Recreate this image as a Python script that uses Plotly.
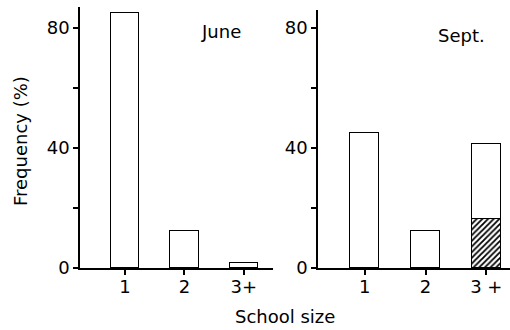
import plotly.graph_objects as go

sizes = [1, 2, 3]
size_labels_june = ["1", "2", "3+"]
size_labels_sept = ["1", "2", "3 +"]
june = [85, 12.5, 1.8]
sept_plain = [45, 12.4, 25.1]
sept_hatched = [None, None, 16.2]
y_ticks = [0, 20, 40, 60, 80]
y_labels = ["0", "", "40", "", "80"]

FONT = "DejaVu Sans"
FS = 18
fig = go.Figure()
bar_style = dict(marker=dict(color="white", line=dict(color="black", width=1.3)), width=0.48)

fig.add_trace(go.Bar(x=sizes, y=june, xaxis="x", yaxis="y", **bar_style))
fig.add_trace(go.Bar(x=sizes, y=sept_hatched, xaxis="x2", yaxis="y2", width=0.48,
                     marker=dict(color="white", line=dict(color="black", width=1.3),
                                 pattern=dict(shape="/", fgcolor="black", bgcolor="white",
                                              size=4, solidity=0.45))))
fig.add_trace(go.Bar(x=sizes, y=sept_plain, xaxis="x2", yaxis="y2", **bar_style))

ax_common = dict(showline=True, linecolor="black", linewidth=1.5, ticks="outside",
                 ticklen=5, tickwidth=1.5, tickcolor="black", showgrid=False, zeroline=False,
                 automargin=False,
                 tickfont=dict(family=FONT, size=FS, color="black"))

y0 = (330 - 268) / 330
fig.update_layout(
    template="none",
    width=510, height=330, margin=dict(l=0, r=0, t=0, b=0, pad=0),
    paper_bgcolor="white", plot_bgcolor="white", showlegend=False,
    barmode="stack", bargap=0,
    xaxis=dict(domain=[80 / 510, 273 / 510], range=[0.244, 3.49], tickvals=sizes,
               ticktext=size_labels_june, anchor="y", ticklabelstandoff=-3, **ax_common),
    yaxis=dict(domain=[y0, (330 - 7) / 330], range=[0, 87], tickvals=y_ticks,
               ticktext=y_labels, anchor="x", **ax_common),
    xaxis2=dict(domain=[318 / 510, 1.0], range=[0.23, 3.39], tickvals=sizes,
                ticktext=size_labels_sept, anchor="y2", ticklabelstandoff=-3, **ax_common),
    yaxis2=dict(domain=[y0, (330 - 10) / 330], range=[0, 86], tickvals=y_ticks,
                ticktext=y_labels, anchor="x2", **ax_common),
)

ann = dict(xref="paper", yref="paper", showarrow=False, xanchor="center", yanchor="middle",
           font=dict(family=FONT, size=FS, color="black"))
fig.add_annotation(text="June", x=221 / 510, y=(330 - 32) / 330, **ann)
fig.add_annotation(text="Sept.", x=461 / 510, y=(330 - 35) / 330, **ann)
fig.add_annotation(text="Frequency (%)", x=20 / 510, y=(330 - 141) / 330, textangle=-90, **ann)
fig.add_annotation(text="School size", x=285 / 510, y=(330 - 316) / 330, **ann)

fig.write_html("out.html", config={"displayModeBar": False},
               post_script="document.body.style.margin='0';document.body.style.padding='0';")
